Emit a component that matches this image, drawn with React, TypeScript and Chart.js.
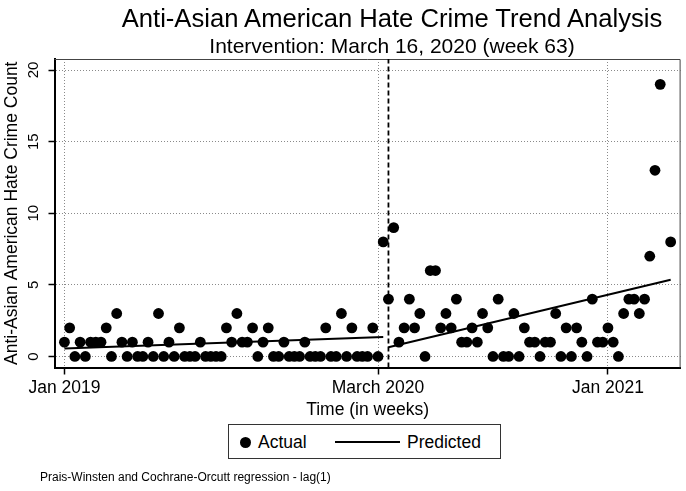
import React, { useEffect, useRef } from "react";
import { Chart, registerables } from "chart.js";

Chart.register(...registerables);

// Weekly counts, week 1 = Jan 2019 (null = no observation)
const actualCounts: (number | null)[] = [
  1, 2, 0, 1, 0, 1, 1, 1, 2, 0,
  3, 1, 0, 1, 0, 0, 1, 0, 3, 0,
  1, 0, 2, 0, 0, 0, 1, 0, 0, 0,
  0, 2, 1, 3, 1, 1, 2, 0, 1, 2,
  0, 0, 1, 0, 0, 0, 1, 0, 0, 0,
  2, 0, 0, 3, 0, 2, 0, 0, 0, 2,
  0, 8, 4, 9, 1, 2, 4, 2, 3, 0,
  6, 6, 2, 3, 2, 4, 1, 1, 2, 1,
  3, 2, 0, 4, 0, 0, 3, 0, 2, 1,
  1, 0, 1, 1, 3, 0, 2, 0, 2, 1,
  0, 4, 1, 1, 2, 1, 0, 3, 4, 4,
  3, 4, 7, 13, 19, null, 8,
];

const tickWeeks = [1, 61, 105];
const tickLabels = ["Jan 2019", "March 2020", "Jan 2021"];
const yTicks = [0, 5, 10, 15, 20];

const interventionWeek = 63;
const predictedPreWeeks = [1, 62];
const predictedPreValues = [0.55, 1.36];
const predictedPostWeeks = [63, 117];
const predictedPostValues = [0.65, 5.36];

const X_MIN = -0.9;
const X_MAX = 118.9;
const Y_MIN = -0.77;
const Y_MAX = 20.77;

const FONT = "'Liberation Sans', Arial, Helvetica, sans-serif";

const framePlugin = {
  id: "frame",
  beforeDatasetsDraw(chart: any) {
    const { ctx, chartArea } = chart;
    ctx.save();
    ctx.strokeStyle = "#444";
    ctx.lineWidth = 1;
    ctx.beginPath();
    ctx.moveTo(chartArea.left, chartArea.top + 0.5);
    ctx.lineTo(chartArea.right - 0.5, chartArea.top + 0.5);
    ctx.lineTo(chartArea.right - 0.5, chartArea.bottom);
    ctx.stroke();
    ctx.restore();
  },
};

export default function App() {
  const canvasRef = useRef<HTMLCanvasElement | null>(null);

  useEffect(() => {
    if (!canvasRef.current) return;
    const actualPoints = actualCounts
      .map((v, i) => (v === null ? null : { x: i + 1, y: v }))
      .filter((p) => p !== null);
    const prePoints = predictedPreWeeks.map((w, i) => ({ x: w, y: predictedPreValues[i] }));
    const postPoints = predictedPostWeeks.map((w, i) => ({ x: w, y: predictedPostValues[i] }));

    const chart = new Chart(canvasRef.current, {
      type: "scatter",
      data: {
        datasets: [
          {
            type: "line",
            label: "Intervention",
            data: [
              { x: interventionWeek, y: Y_MIN },
              { x: interventionWeek, y: Y_MAX },
            ],
            borderColor: "#000",
            borderWidth: 1.8,
            borderDash: [5, 3],
            pointRadius: 0,
            fill: false,
          } as any,
          {
            label: "Actual",
            data: actualPoints as any,
            backgroundColor: "#000",
            borderColor: "#000",
            pointRadius: 5.4,
            pointBorderWidth: 0,
            pointHoverRadius: 5.4,
          },
          {
            type: "line",
            label: "Predicted",
            data: prePoints,
            borderColor: "#000",
            borderWidth: 2,
            pointRadius: 0,
            fill: false,
          } as any,
          {
            type: "line",
            label: "Predicted (post)",
            data: postPoints,
            borderColor: "#000",
            borderWidth: 2,
            pointRadius: 0,
            fill: false,
          } as any,
        ],
      },
      options: {
        responsive: false,
        animation: false,
        devicePixelRatio: 1,
        layout: { padding: { top: 59, right: 5, bottom: 72, left: 1 } },
        plugins: {
          legend: { display: false },
          tooltip: { enabled: false },
          title: { display: false },
        },
        scales: {
          x: {
            type: "linear",
            min: X_MIN,
            max: X_MAX,
            afterBuildTicks: (s: any) => {
              s.ticks = tickWeeks.map((v) => ({ value: v }));
            },
            ticks: {
              callback: (v: any) => {
                const i = tickWeeks.indexOf(Number(v));
                return i >= 0 ? tickLabels[i] : "";
              },
              color: "#000",
              font: { family: FONT, size: 17.5 },
              padding: 3,
              minRotation: 0,
              maxRotation: 0,
              autoSkip: false,
            },
            grid: {
              color: "#8a8a8a",
              lineWidth: 1,
              tickLength: 7,
              tickColor: "#000",
              tickWidth: 1.5,
              tickBorderDash: [],
            },
            border: { display: true, color: "#000", width: 2, dash: [1, 2] },
            title: {
              display: true,
              text: "Time (in weeks)",
              color: "#000",
              font: { family: FONT, size: 17.5, lineHeight: 1 },
              padding: { top: 0, bottom: 0 },
            },
          },
          y: {
            type: "linear",
            min: Y_MIN,
            max: Y_MAX,
            afterBuildTicks: (s: any) => {
              s.ticks = yTicks.map((v) => ({ value: v }));
            },
            ticks: {
              color: "#000",
              font: { family: FONT, size: 15, lineHeight: 1 },
              padding: 6,
              minRotation: 90,
              maxRotation: 90,
              crossAlign: "center",
            },
            grid: {
              color: "#8a8a8a",
              lineWidth: 1,
              tickLength: 6,
              tickColor: "#000",
              tickWidth: 1.5,
              tickBorderDash: [],
            },
            border: { display: true, color: "#000", width: 2, dash: [1, 2] },
            title: {
              display: true,
              text: "Anti-Asian American Hate Crime Count",
              color: "#000",
              font: { family: FONT, size: 17.5, lineHeight: 1 },
              padding: { top: 2, bottom: 1 },
            },
          },
        },
      } as any,
      plugins: [framePlugin],
    });
    return () => chart.destroy();
  }, []);

  const abs: React.CSSProperties = { position: "absolute", fontFamily: FONT, color: "#000", whiteSpace: "nowrap" };

  return (
    <div style={{ position: "absolute", left: 0, top: 0, width: 686, height: 491, background: "#fff", overflow: "hidden" }}>
      <canvas ref={canvasRef} width={686} height={491} style={{ position: "absolute", left: 0, top: 0, width: 686, height: 491 }} />
      <div style={{ ...abs, left: 92, top: 6, width: 600, textAlign: "center", fontSize: 25.6, lineHeight: "25px" }}>
        Anti-Asian American Hate Crime Trend Analysis
      </div>
      <div style={{ ...abs, left: 92, top: 35, width: 600, textAlign: "center", fontSize: 21, lineHeight: "21px" }}>
        Intervention: March 16, 2020 (week 63)
      </div>
      <div style={{ position: "absolute", left: 228, top: 424, width: 273, height: 35, boxSizing: "border-box", border: "1px solid #333", background: "#fff" }}>
        <div style={{ position: "absolute", left: 11, top: 11.5, width: 11, height: 11, borderRadius: "50%", background: "#000" }} />
        <div style={{ ...abs, left: 29, top: 7, fontSize: 17.5, lineHeight: "20px" }}>Actual</div>
        <div style={{ position: "absolute", left: 106, top: 16, width: 65, height: 2, background: "#000" }} />
        <div style={{ ...abs, left: 178, top: 7, fontSize: 17.5, lineHeight: "20px" }}>Predicted</div>
      </div>
      <div style={{ ...abs, left: 40, top: 471, fontSize: 12, lineHeight: "12px" }}>
        Prais-Winsten and Cochrane-Orcutt regression - lag(1)
      </div>
    </div>
  );
}
